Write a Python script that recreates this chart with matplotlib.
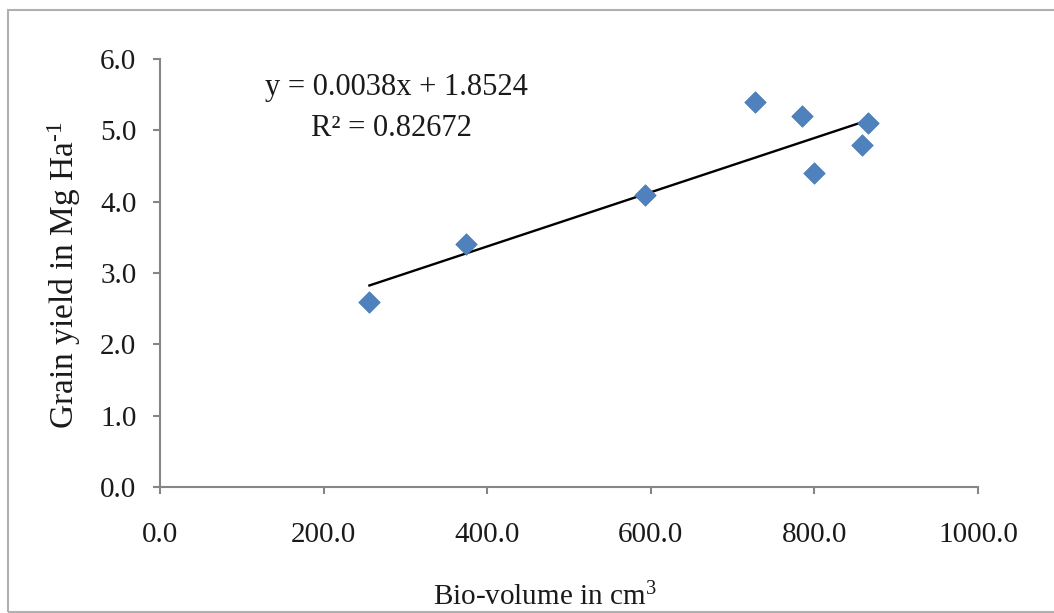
import matplotlib
matplotlib.use("Agg")
import matplotlib.pyplot as plt
import numpy as np
from matplotlib.patches import Rectangle

bio_volume = [256, 374, 593, 727, 785, 800, 858, 866]
grain_yield = [2.6, 3.4, 4.1, 5.4, 5.2, 4.4, 4.8, 5.1]
slope = 0.0038
intercept = 1.8524
r_squared = 0.82672
x_ticks = [0, 200, 400, 600, 800, 1000]
y_ticks = [0, 1, 2, 3, 4, 5, 6]

plt.rcParams['font.family'] = ['Liberation Serif', 'DejaVu Serif']
plt.rcParams['mathtext.fontset'] = 'custom'
plt.rcParams['mathtext.rm'] = 'Liberation Serif'
plt.rcParams['mathtext.it'] = 'Liberation Serif:italic'

W, H = 1054, 613
fig = plt.figure(figsize=(W / 100, H / 100), dpi=100)
fig.patches.append(Rectangle((8 / W, 1 / H), 1.2, (H - 11) / H, transform=fig.transFigure,
                             fill=False, edgecolor='#b0b0b0', linewidth=1.5))

ax = fig.add_axes([160 / W, 1 - 487 / H, (978 - 160) / W, (487 - 59) / H])
ax.scatter(bio_volume, grain_yield, marker='D', s=120, color='#4F81BD', zorder=3,
           edgecolors='#4A7AB5', linewidths=0.5)
xl = np.array([min(bio_volume), max(bio_volume)])
ax.plot(xl, slope * xl + intercept, color='black', linewidth=1.7, zorder=2)

ax.set_xlim(0, 1000)
ax.set_ylim(0, 6)
ax.set_xticks(x_ticks)
ax.set_yticks(y_ticks)
ax.set_xticklabels([f"{v:.1f}" for v in x_ticks])
ax.set_yticklabels([f"{v:.1f}" for v in y_ticks])
for s in ['top', 'right']:
    ax.spines[s].set_visible(False)
for s in ['left', 'bottom']:
    ax.spines[s].set_color('#868686')
    ax.spines[s].set_linewidth(1.5)
ax.tick_params(axis='both', colors='#868686', labelcolor='#1a1a1a', labelsize=21,
               length=5, width=1.5, direction='out')
ax.tick_params(axis='x', pad=20)
ax.tick_params(axis='y', pad=12)

fig.text(396 / W, 1 - 88 / H, f"y = {slope}x + {intercept}", ha='center', va='center',
         fontsize=22, color='#1a1a1a')
fig.text(391 / W, 1 - 128 / H, f"R² = {r_squared}", ha='center', va='center',
         fontsize=22, color='#1a1a1a')

fig.text(545 / W, 1 - 605 / H, "Bio-volume in cm$^{3}$", ha='center', va='baseline',
         fontsize=21, color='#1a1a1a')
fig.text(64 / W, 1 - 275 / H, r"Grain yield in Mg Ha$^{\text{-1}}$", ha='center', va='center',
         rotation=90, fontsize=24, color='#1a1a1a')

fig.savefig("out.png", dpi=100)
